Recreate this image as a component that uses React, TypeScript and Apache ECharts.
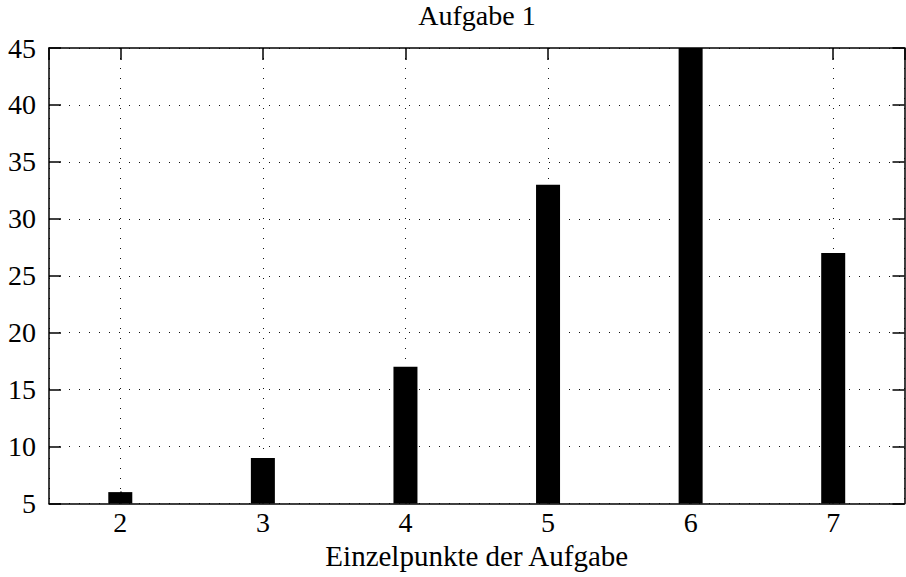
import React, { useEffect, useRef } from "react";
import * as echarts from "echarts";

const titleText = "Aufgabe 1";
const xName = "Einzelpunkte der Aufgabe";
const points = [2, 3, 4, 5, 6, 7];
const counts = [6, 9, 17, 33, 45, 27];

const FONT = "Liberation Serif";

export default function App() {
  const ref = useRef<HTMLDivElement>(null);
  useEffect(() => {
    document.body.style.margin = "0";
    const chart = echarts.init(ref.current!, null, { renderer: "svg" });
    const dotted = { color: "#111", width: 1, type: [1, 9] as any };
    const axisLine = { show: true, lineStyle: { color: "#000", width: 1.5 } };
    const tick = { show: true, inside: true, length: 12, lineStyle: { color: "#000", width: 1.5 } };
    const fmt = (v: number) => (Number.isInteger(v) ? String(v) : "");
    chart.setOption({
      animation: false,
      backgroundColor: "#fff",
      textStyle: { fontFamily: FONT },
      title: {
        text: titleText,
        left: 477,
        textAlign: "center",
        top: 1,
        padding: 0,
        textStyle: { fontFamily: FONT, fontSize: 28, fontWeight: "normal", color: "#000" },
      },
      grid: { left: 49, right: 1.5, top: 48, bottom: 73.5 },
      xAxis: [
        {
          type: "value",
          min: 1.5,
          max: 7.5,
          splitNumber: 6,
          name: xName,
          nameLocation: "middle",
          nameGap: 35,
          nameTextStyle: { fontFamily: FONT, fontSize: 29, color: "#000" },
          axisLine,
          axisTick: tick,
          axisLabel: { formatter: fmt, fontFamily: FONT, fontSize: 28, color: "#000", margin: 5, showMinLabel: false, showMaxLabel: false },
          splitLine: { show: true, lineStyle: dotted },
        },
        {
          type: "value",
          position: "top",
          min: 1.5,
          max: 7.5,
          splitNumber: 6,
          axisLine,
          axisTick: tick,
          axisLabel: { show: false },
          splitLine: { show: false },
        },
      ],
      yAxis: [
        {
          type: "value",
          min: 5,
          max: 45,
          interval: 5,
          axisLine,
          axisTick: tick,
          axisLabel: { fontFamily: FONT, fontSize: 28, color: "#000", margin: 13 },
          splitLine: { show: true, lineStyle: dotted },
        },
        {
          type: "value",
          position: "right",
          min: 5,
          max: 45,
          interval: 5,
          axisLine,
          axisTick: tick,
          axisLabel: { show: false },
          splitLine: { show: false },
        },
      ],
      series: [
        {
          type: "bar",
          xAxisIndex: 0,
          yAxisIndex: 0,
          barWidth: 24,
          itemStyle: { color: "#000" },
          data: points.map((p, i) => [p, counts[i]]),
          z: 3,
        },
      ],
    });
    return () => chart.dispose();
  }, []);
  return <div ref={ref} style={{ width: 906, height: 577 }} />;
}
